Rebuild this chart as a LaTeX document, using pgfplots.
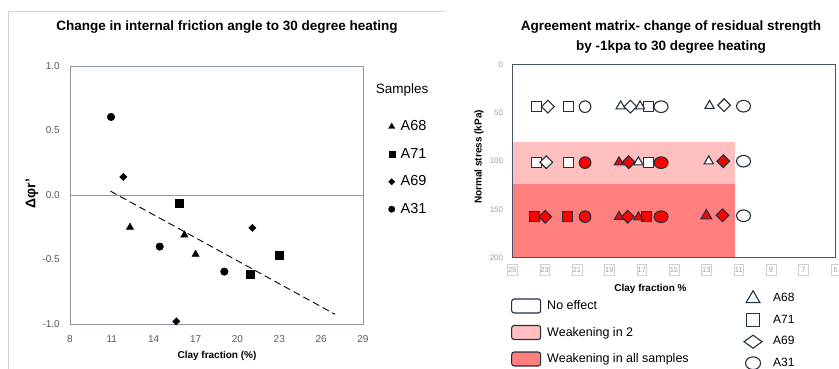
\documentclass[border=0pt]{standalone}
\usepackage{pgfplots}
\pgfplotsset{compat=1.18}
\usepackage{fontspec}
\setmainfont{Liberation Sans}
\definecolor{laxis}{HTML}{8C97A3}
\definecolor{ltick}{HTML}{595959}
\definecolor{rframe}{HTML}{44546A}
\definecolor{mk}{HTML}{22313F}
\definecolor{pinkreg}{HTML}{FFBFBF}
\definecolor{redreg}{HTML}{FF7F7F}
\definecolor{mred}{HTML}{FF0000}
\definecolor{rtick}{HTML}{A0A0A0}
\definecolor{framegray}{HTML}{D0D0D0}
\newcommand{\fs}[1]{\fontsize{#1}{#1}\selectfont}
\begin{document}
\begin{tikzpicture}
\useasboundingbox (0,0) rectangle (839pt,369pt);
\clip (0,0) rectangle (839pt,369pt);
\fill[white] (0,0) rectangle (839pt,369pt);
\draw[framegray, line width=0.8pt] (8.3pt,-1pt) -- (8.3pt,358pt) -- (445pt,358pt);

% ---------------- left chart ----------------
\begin{axis}[
  at={(70pt,45pt)}, anchor=south west, scale only axis,
  width=293pt, height=258pt,
  xmin=8, xmax=29, ymin=-1, ymax=1,
  xtick={8,11,...,29}, ytick={-1,-0.5,0,0.5,1},
  yticklabels={-1.0,-0.5,0.0,0.5,1.0},
  /pgf/number format/assume math mode=true,
  major tick length=0pt,
  axis line style={laxis, line width=0.9pt},
  tick label style={font=\fs{10}, text=ltick, inner sep=0pt},
  xticklabel style={anchor=center, yshift=-15.3pt},
  yticklabel style={anchor=east, xshift=-10pt},
  clip=false,
]
\addplot[laxis, line width=0.8pt] coordinates {(8,0) (29,0)};
\addplot[black, line width=0.9pt, dash pattern=on 7pt off 4pt] coordinates {(10.9,0.03) (27.0,-0.925)};
% A68
\addplot[only marks, mark=triangle*, mark size=4.2pt, black] coordinates {(12.3,-0.25) (16.2,-0.31) (17.0,-0.46)};
% A71
\addplot[only marks, mark=square*, mark size=4pt, black] coordinates {(15.85,-0.067) (20.95,-0.615) (22.98,-0.47)};
% A69
\addplot[only marks, mark=square*, mark size=2.6pt, black, mark options={rotate=45}] coordinates {(11.82,0.14) (15.62,-0.98) (21.07,-0.255)};
% A31
\addplot[only marks, mark=*, mark size=3.8pt, black] coordinates {(10.94,0.605) (14.43,-0.40) (19.06,-0.594)};
\end{axis}

% ---------------- right chart ----------------
\begin{axis}[
  at={(512.3pt,111.3pt)}, anchor=south west, scale only axis,
  width=323.4pt, height=193pt,
  xmin=5, xmax=25, x dir=reverse, ymin=0, ymax=200, y dir=reverse,
  xtick={5,7,...,25}, ytick={0,50,...,200},
  /pgf/number format/assume math mode=true,
  major tick length=0pt,
  axis line style={rframe, line width=1.1pt},
  tick label style={text=rtick, inner sep=0pt},
  xticklabel style={font=\fs{7.5}, anchor=center, yshift=-12.3pt, draw=framegray, line width=0.5pt, minimum width=9.7pt, minimum height=11pt, inner sep=0.7pt},
  yticklabel style={font=\fs{8}, anchor=east, xshift=-9pt},
  axis on top, clip=false,
]
\addplot[fill=pinkreg, draw=none] coordinates {(25,80) (11.2,80) (11.2,124) (25,124)} -- cycle;
\addplot[fill=redreg, draw=none] coordinates {(25,124) (11.2,124) (11.2,200) (25,200)} -- cycle;
% A71 squares
\addplot[only marks, mark=square*, mark size=5pt, mark options={draw=mk, fill=white, line width=1.1pt}] coordinates {(23.5,43) (21.5,43) (16.6,43) (23.5,101) (21.5,101) (16.6,101)};
\addplot[only marks, mark=square*, mark size=5pt, mark options={draw=mk, fill=mred, line width=1.1pt}] coordinates {(23.6,157) (21.6,157) (16.7,157)};
% A68 triangles
\addplot[only marks, mark=triangle*, mark size=5.3pt, mark options={draw=mk, fill=white, line width=1.1pt}] coordinates {(18.3,43) (17.1,43) (12.8,42.5) (17.2,101) (12.85,100)};
\addplot[only marks, mark=triangle*, mark size=5.3pt, mark options={draw=mk, fill=mred, line width=1.1pt}] coordinates {(18.4,101) (18.4,157.5) (17.2,158)};
\addplot[only marks, mark=triangle*, mark size=6.2pt, mark options={draw=mk, fill=mred, line width=1.1pt}] coordinates {(13.0,156.5)};
% A69 diamonds
\addplot[only marks, mark=square*, mark size=4.5pt, mark options={draw=mk, fill=white, line width=1.1pt, rotate=45}] coordinates {(22.8,43.5) (17.7,43.5) (11.9,42) (22.9,101)};
\addplot[only marks, mark=square*, mark size=4.5pt, mark options={draw=mk, fill=mred, line width=1.1pt, rotate=45}] coordinates {(17.8,101) (11.95,100) (22.96,157.5) (17.86,157.5) (12.0,156)};
% A31 circles
\addplot[only marks, mark=*, mark size=5.8pt, mark options={draw=mk, fill=white, line width=1.1pt}] coordinates {(20.5,43.5)};
\addplot[only marks, mark=*, mark size=5.8pt, mark options={draw=mk, fill=white, line width=1.1pt, xscale=1.2}] coordinates {(15.8,43.5) (10.7,43) (10.7,100) (10.7,156.5)};
\addplot[only marks, mark=*, mark size=5.8pt, mark options={draw=mk, fill=mred, line width=1.1pt}] coordinates {(20.5,101.5) (20.5,157.5)};
\addplot[only marks, mark=*, mark size=5.8pt, mark options={draw=mk, fill=mred, line width=1.1pt, xscale=1.2}] coordinates {(15.8,101.5) (15.8,157.5)};
\end{axis}

% ---------------- legends ----------------
\begin{axis}[at={(0pt,0pt)}, anchor=south west, scale only axis, width=839pt, height=369pt,
  xmin=0, xmax=839, ymin=0, ymax=369, hide axis,
  legend cell align=left,
  legend style={at={(0.4609,0.6729)}, anchor=north west, draw=none, fill=none, inner sep=0pt, outer sep=0pt,
    row sep=15.5pt, column sep=4pt, font=\fs{14.5}, nodes={inner sep=0pt, text height=10pt, text depth=2pt}},
  legend image code/.code={\path[draw=none,fill=none] (-5pt,-5pt) rectangle (5pt,5pt); \draw[#1] plot coordinates {(0pt,0pt)};},
]
\addlegendimage{mark=triangle*, black, mark size=3.6pt}
\addlegendentry{A68}
\addlegendimage{mark=square*, black, mark size=3pt}
\addlegendentry{A71}
\addlegendimage{mark=square*, black, mark size=2.2pt, mark options={rotate=45}}
\addlegendentry{A69}
\addlegendimage{mark=*, black, mark size=3.2pt}
\addlegendentry{A31}
\end{axis}

\begin{axis}[at={(0pt,0pt)}, anchor=south west, scale only axis, width=839pt, height=369pt,
  xmin=0, xmax=839, ymin=0, ymax=369, hide axis,
  legend cell align=left,
  legend style={at={(0.6092,0.1911)}, anchor=north west, draw=none, fill=none, inner sep=0pt, outer sep=0pt,
    row sep=11.4pt, column sep=6pt, font=\fs{12.5}, nodes={inner sep=0pt, text height=9.5pt, text depth=2.5pt}},
  legend image code/.code={\draw[#1, draw=mk, line width=1.1pt, rounded corners=2.5pt] (0pt,-7pt) rectangle (29pt,7pt);},
]
\addlegendimage{fill=white}
\addlegendentry{No effect}
\addlegendimage{fill=pinkreg}
\addlegendentry{Weakening in 2}
\addlegendimage{fill=redreg}
\addlegendentry{Weakening in all samples}
\end{axis}

\begin{axis}[at={(0pt,0pt)}, anchor=south west, scale only axis, width=839pt, height=369pt,
  xmin=0, xmax=839, ymin=0, ymax=369, hide axis,
  legend cell align=left,
  legend style={at={(0.8868,0.2122)}, anchor=north west, draw=none, fill=none, inner sep=0pt, outer sep=0pt,
    row sep=5.5pt, column sep=11pt, font=\fs{12}, nodes={inner sep=0pt, text height=9pt, text depth=2.5pt}},
  legend image code/.code={\path[draw=none,fill=none] (-8pt,-8pt) rectangle (8pt,8pt); \draw[#1] plot coordinates {(0pt,0pt)};},
]
\addlegendimage{mark=triangle, mark size=8pt, mark options={draw=mk, line width=1.1pt}}
\addlegendentry{A68}
\addlegendimage{mark=square, mark size=6.5pt, mark options={draw=mk, line width=1.1pt}}
\addlegendentry{A71}
\addlegendimage{mark=diamond, mark size=6.5pt, mark options={draw=mk, line width=1.1pt, xscale=1.85}}
\addlegendentry{A69}
\addlegendimage{mark=o, mark size=7.5pt, mark options={draw=mk, line width=1.1pt, yscale=0.85}}
\addlegendentry{A31}
\end{axis}

% ---------------- texts ----------------
\node[font=\bfseries\fs{13.5}, inner sep=0pt] at (227pt,342pt) {Change in internal friction angle to 30 degree heating};
\node[font=\bfseries\fontsize{13.5}{20}\selectfont, align=center, inner sep=0pt] at (671pt,332pt) {Agreement matrix- change of residual strength\\by -1kpa to 30 degree heating};
\node[font=\bfseries\fs{10}, inner sep=0pt] at (217pt,13pt) {Clay fraction (\%)};
\node[font=\bfseries\fs{10}, inner sep=0pt] at (650.5pt,80pt) {Clay fraction \%};
\node[font=\bfseries\fs{10}, rotate=90, inner sep=0pt] at (479pt,212pt) {Normal stress (kPa)};
\node[font=\bfseries\fs{14}, rotate=90, inner sep=0pt] at (32pt,175pt) {Δφr'};
\node[font=\fs{13.5}, anchor=west, inner sep=0pt] at (375.7pt,279pt) {Samples};
\end{tikzpicture}
\end{document}
